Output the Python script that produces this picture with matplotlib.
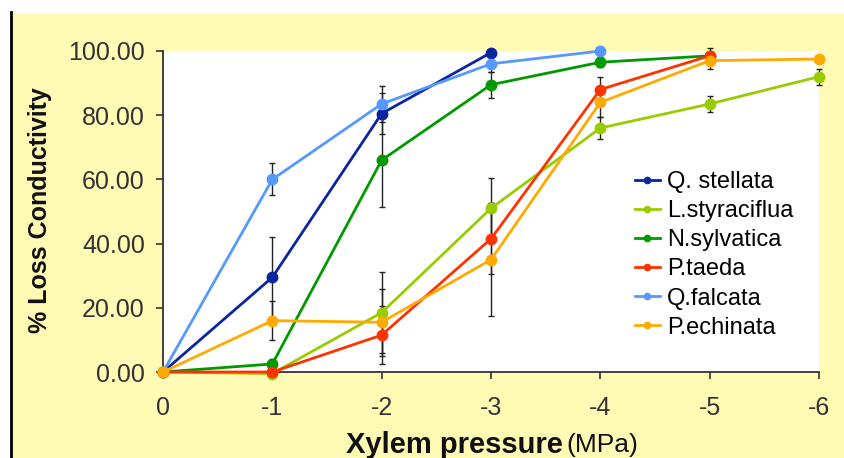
import matplotlib.pyplot as plt
from matplotlib.patches import Rectangle
from matplotlib.lines import Line2D

plt.rcParams["font.family"] = ["Liberation Sans", "DejaVu Sans"]

# xylem pressure (MPa)
pressure = [0, -1, -2, -3, -4, -5, -6]

species = ["Q. stellata", "L.styraciflua", "N.sylvatica", "P.taeda", "Q.falcata", "P.echinata"]
colors = ["#0b24a0", "#99cc00", "#009900", "#ff3300", "#5599ff", "#ffaa00"]

# % loss conductivity per species (None = not measured)
q_stellata = [0, 29.5, 80.5, 99.5, None, None, None]
l_styraciflua = [0, -0.5, 18.5, 51, 76, 83.5, 92]
n_sylvatica = [0, 2.5, 66, 89.5, 96.5, 98.5, None]
p_taeda = [0, 0, 11.5, 41.5, 88, 98.5, None]
q_falcata = [0, 60, 83.5, 96, 100, None, None]
p_echinata = [0, 16, 15.5, 35, 84, 97, 97.5]

# error (+/-)
q_stellata_err = [0, 12.5, 6.5, 0, None, None, None]
l_styraciflua_err = [0, 0.5, 12.5, 9.3, 3.5, 2.5, 2.5]
n_sylvatica_err = [0, 1.5, 14.5, 4, 1.5, 1, None]
p_taeda_err = [0, 0.5, 9, 11, 4, 2.5, None]
q_falcata_err = [0, 5, 5.5, 2.5, 0.5, None, None]
p_echinata_err = [0, 6, 10.5, 17.5, 4.5, 2.7, 1]

values = [q_stellata, l_styraciflua, n_sylvatica, p_taeda, q_falcata, p_echinata]
errors = [q_stellata_err, l_styraciflua_err, n_sylvatica_err, p_taeda_err, q_falcata_err, p_echinata_err]

W, H = 844, 458
fig = plt.figure(figsize=(W / 100, H / 100), dpi=100, facecolor="white")
fig.patches.append(Rectangle((12 / W, 0), 1, (H - 13) / H, transform=fig.transFigure,
                             facecolor="#fffbb4", edgecolor="none", zorder=-10))
fig.add_artist(Line2D([11 / W, 11 / W], [0, (H - 12) / H], transform=fig.transFigure,
                      color="black", lw=2))

ax = fig.add_axes([163 / W, (H - 372) / H, 656 / W, 321 / H])
ax.set_facecolor("white")

for name, c, v, e in zip(species, colors, values, errors):
    xs = [x for x, y in zip(pressure, v) if y is not None]
    ys = [y for y in v if y is not None]
    es = [err for err in e if err is not None]
    ax.errorbar(xs, ys, yerr=es, fmt="none", ecolor="#222222", elinewidth=1,
                capsize=2.5, capthick=1, zorder=2, clip_on=False)
    ax.plot(xs, ys, "-o", color=c, lw=2, ms=7.5, label=name, zorder=3, clip_on=False)

ax.set_xlim(0, -6)
ax.set_ylim(0, 100)
ax.set_xticks(pressure)
ax.set_xticklabels(["0", "-1", "-2", "-3", "-4", "-5", "-6"])
ax.set_yticks([0, 20, 40, 60, 80, 100])
ax.set_yticklabels(["%.2f" % t for t in [0, 20, 40, 60, 80, 100]])
ax.tick_params(direction="out", length=5, width=1.2, colors="#333333",
               labelsize=18, labelcolor="#333333")
ax.tick_params(axis="y", pad=8)
ax.tick_params(axis="x", pad=12)
for s in ["top", "right"]:
    ax.spines[s].set_visible(False)
for s in ["left", "bottom"]:
    ax.spines[s].set_color("#333333")
    ax.spines[s].set_linewidth(1.3)

ax.legend(loc="upper left", bbox_to_anchor=(0.705, 0.655), frameon=False,
          fontsize=17, handlelength=1.05, handletextpad=0.3, labelspacing=0.3,
          markerscale=0.6, borderaxespad=0)

fig.text(40 / W, (H - 210) / H, "% Loss Conductivity", rotation=90, fontsize=18,
         fontweight="bold", ha="center", va="center", color="#111111")
fig.text(563 / W, (H - 445) / H, "Xylem pressure", fontsize=21, fontweight="bold",
         ha="right", va="center", color="#111111")
fig.text(566 / W, (H - 445) / H, "(MPa)", fontsize=19, ha="left", va="center",
         color="#111111")

fig.savefig("out.png", dpi=100)
